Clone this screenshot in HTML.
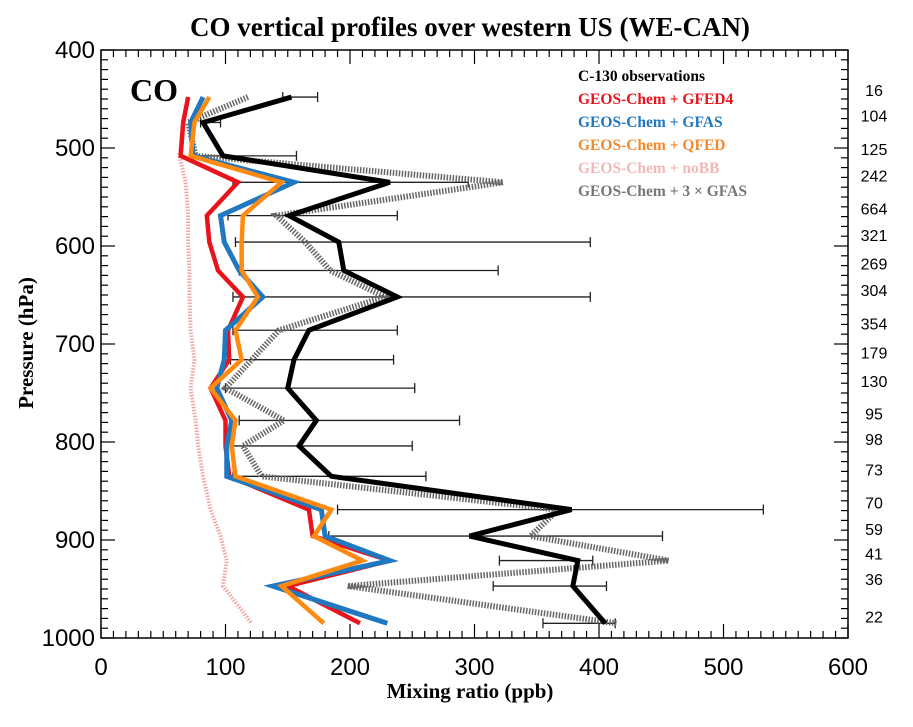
<!DOCTYPE html>
<html><head><meta charset="utf-8"><style>
body{margin:0;background:#fff;}
svg text{font-family:"Liberation Serif",serif;}
</style></head><body>
<svg width="913" height="722" viewBox="0 0 913 722" xmlns="http://www.w3.org/2000/svg">
<text x="470" y="36" text-anchor="middle" font-size="27" font-weight="bold">CO vertical profiles over western US (WE-CAN)</text>
<g id="axes"></g>
<g id="series"></g>
<text x="130" y="101" font-size="32" font-weight="bold">CO</text>
<g font-size="15.5" font-weight="bold">
<text x="578" y="81" fill="#000">C-130 observations</text>
<text x="578" y="104" fill="#e8141c">GEOS-Chem + GFED4</text>
<text x="578" y="127" fill="#1f78c0">GEOS-Chem + GFAS</text>
<text x="578" y="150" fill="#f28a30">GEOS-Chem + QFED</text>
<text x="578" y="173" fill="#f2b8b8">GEOS-Chem + noBB</text>
<text x="578" y="196" fill="#777">GEOS-Chem + 3 × GFAS</text>
</g>
<text x="470" y="698" text-anchor="middle" font-size="21" font-weight="bold">Mixing ratio (ppb)</text>
<text transform="translate(33,343) rotate(-90)" text-anchor="middle" font-size="21" font-weight="bold">Pressure (hPa)</text>
<script>
const levels=[448,474,508,535,569,596,625,652,686,716,745,778,804,835,869,896,921,947,985];
const counts=[16,104,125,242,664,321,269,304,354,179,130,95,98,73,70,59,41,36,22];
const obs=[153,82,98,232,151,191,195,238,167,155,150,173,159,185,378,296,383,379,405];
const obsLow=[146,80,74,106,102,108,111,106,106,104,100,111,105,106,190,183,320,315,355];
const obsHigh=[174,96,157,295,238,393,319,393,238,235,252,288,250,261,532,451,395,406,413];
const gfed4=[70,66,64,110,85,87,94,114,102,103,88,100,100,103,167,170,232,150,208];
const gfas=[82,72,74,155,96,99,111,130,100,99,93,105,101,101,177,180,232,138,230];
const qfed=[87,75,72,145,114,113,113,126,108,113,88,108,105,108,185,171,210,145,179];
const nobb=[70,66,63,68,70,70,71,71,72,75,72,76,78,82,88,96,101,98,121];
const gfas3=[118,70,76,323,141,164,184,228,143,121,100,147,114,129,367,345,456,198,414];
const xTicks=[0,100,200,300,400,500,600];
const yTicks=[400,500,600,700,800,900,1000];
const X0=101,X1=848,Y0=50,Y1=638;
const xs=v=>X0+(v/600)*(X1-X0);
const ys=p=>Y0+((p-400)/600)*(Y1-Y0);
const NS="http://www.w3.org/2000/svg";
function mk(tag,attrs,parent){const e=document.createElementNS(NS,tag);for(const k in attrs)e.setAttribute(k,attrs[k]);parent.appendChild(e);return e;}
const ax=document.getElementById('axes');
let fr=mk('rect',{x:X0,y:Y0,width:X1-X0,height:Y1-Y0,fill:'none',stroke:'#000','stroke-width':1.5},ax);


for(let v=0;v<=600;v+=10){const L=v%100==0?14:7;
 mk('line',{x1:xs(v),x2:xs(v),y1:Y1,y2:Y1-L,stroke:'#000','stroke-width':1.2},ax);
 mk('line',{x1:xs(v),x2:xs(v),y1:Y0,y2:Y0+L,stroke:'#000','stroke-width':1.2},ax);}
for(let p=400;p<=1000;p+=10){const L=p%100==0?14:7;
 mk('line',{x1:X0,x2:X0+L,y1:ys(p),y2:ys(p),stroke:'#000','stroke-width':1.2},ax);
 mk('line',{x1:X1,x2:X1-L,y1:ys(p),y2:ys(p),stroke:'#000','stroke-width':1.2},ax);}
xTicks.forEach(v=>{const t=mk('text',{x:xs(v),y:675,'text-anchor':'middle','font-size':24,style:'font-family:"Liberation Sans",sans-serif'},ax);t.textContent=v;
 
 });
yTicks.forEach(p=>{const t=mk('text',{x:95,y:ys(p)+8,'text-anchor':'end','font-size':24,style:'font-family:"Liberation Sans",sans-serif'},ax);t.textContent=p;
 
 });
levels.forEach((p,i)=>{const t=mk('text',{x:874,y:ys(p)-1,'text-anchor':'middle','font-size':16,style:'font-family:"Liberation Sans",sans-serif'},ax);t.textContent=counts[i];
 
 });
const sg=document.getElementById('series');
levels.forEach((p,i)=>{const y=ys(p);
 const lo=obsLow[i],hi=obsHigh[i];
 const g=mk('g',{stroke:'#222','stroke-width':1.3},sg);
 
 
 mk('line',{x1:xs(lo),x2:xs(Math.min(hi,600)),y1:y,y2:y},g);
 mk('line',{x1:xs(lo),x2:xs(lo),y1:y-5,y2:y+5},g);
 if(hi<600)mk('line',{x1:xs(hi),x2:xs(hi),y1:y-5,y2:y+5},g);});
function line(vals,color,w,dash,name){const pts=vals.map((v,i)=>xs(v)+','+ys(levels[i])).join(' ');
 const a={points:pts,fill:'none',stroke:color,'stroke-width':w,'stroke-linejoin':'miter'};if(dash)a['stroke-dasharray']=dash;
 const e=mk('polyline',a,sg);
 
 }
line(nobb,'#f4a6a6',4,'1.5,1.5','line-nobb');
line(gfas3,'#666',6,'1.5,1.5','line-3xgfas');
line(gfed4,'#e8141c',4.5,null,'line-gfed4');
line(gfas,'#1f78c0',5,null,'line-gfas');
line(qfed,'#ff8a10',4.5,null,'line-qfed');
line(obs,'#000',5,null,'line-c130-observations');
</script>
</svg>
</body></html>
